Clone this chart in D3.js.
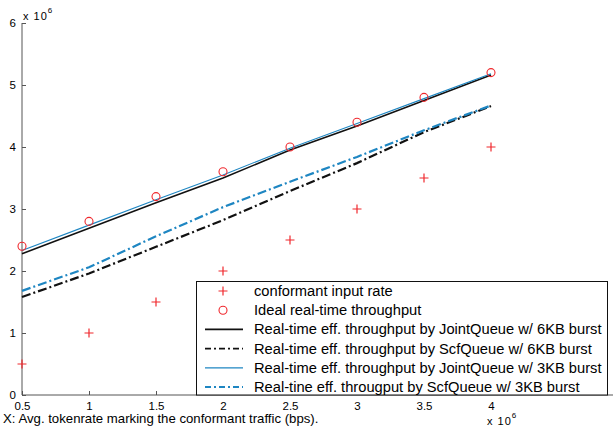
<!DOCTYPE html>
<html>
<head>
<meta charset="utf-8">
<script src="https://cdn.jsdelivr.net/npm/d3@7"></script>
<style>
  html, body { margin: 0; padding: 0; background: #fff; }
  svg { display: block; font-family: "Liberation Sans", Arial, Helvetica, sans-serif; }
</style>
</head>
<body>
<svg id="chart" width="613" height="432"></svg>
<script>
// Token rates (x 10^6 bps)
const rates = [0.5, 1, 1.5, 2, 2.5, 3, 3.5, 4];
// Series values (x 10^6 bps)
const conformantInput = [0.5, 1, 1.5, 2, 2.5, 3, 3.5, 4];
const idealThroughput = [2.4, 2.8, 3.2, 3.6, 4.0, 4.4, 4.8, 5.2];
const jointQueue6KB   = [2.28, 2.69, 3.10, 3.50, 3.95, 4.34, 4.75, 5.16];
const scfQueue6KB     = [1.58, 1.96, 2.39, 2.82, 3.29, 3.74, 4.24, 4.66];
const jointQueue3KB   = [2.33, 2.74, 3.15, 3.55, 3.98, 4.38, 4.78, 5.18];
const scfQueue3KB     = [1.68, 2.06, 2.56, 3.03, 3.44, 3.84, 4.27, 4.67];
// Tick labels
const xTicks = [0.5, 1, 1.5, 2, 2.5, 3, 3.5, 4];
const xTickLabels = ["0.5", "1", "1.5", "2", "2.5", "3", "3.5", "4"];
const yTicks = [0, 1, 2, 3, 4, 5, 6];
const yTickLabels = ["0", "1", "2", "3", "4", "5", "6"];
const legendLabels = [
  "conformant input rate",
  "Ideal real-time throughput",
  "Real-time eff. throughput by JointQueue w/ 6KB burst",
  "Real-time eff. throughput by ScfQueue w/ 6KB burst",
  "Real-time eff. throughput by JointQueue w/ 3KB burst",
  "Real-tine eff. througput by ScfQueue w/ 3KB burst"
];

const RED = "#f0282d";
const BLUE = "#1e86c2";
const AXIS = "#555";

const svg = d3.select("#chart");
const x = d3.scaleLinear().domain([0.5, 5]).range([22, 625]);
const y = d3.scaleLinear().domain([0, 6]).range([395, 23]);

// Axes: left and bottom only, ticks pointing inward
const xAxis = d3.axisBottom(x).tickValues(xTicks).tickSize(-4)
  .tickFormat((d, i) => xTickLabels[i]).tickPadding(7);
const gx = svg.append("g").attr("transform", `translate(0,${y(0)})`).call(xAxis);
gx.select(".domain").attr("stroke", AXIS).attr("d", `M${x(0.5)},0H613`);
gx.selectAll(".tick line").attr("stroke", AXIS);
gx.selectAll(".tick text").attr("font-size", 11.5).attr("fill", "#000");

const yAxis = d3.axisLeft(y).tickValues(yTicks).tickSize(-4).tickPadding(6)
  .tickFormat((d, i) => yTickLabels[i]);
const gy = svg.append("g").attr("transform", `translate(${x(0.5)},0)`).call(yAxis);
gy.select(".domain").attr("stroke", AXIS).attr("d", `M0,${y(6)}V${y(0)}`);
gy.selectAll(".tick line").attr("stroke", AXIS);
gy.selectAll(".tick text").attr("font-size", 11.5).attr("fill", "#000");

// Exponent labels
function exponent(g, px, py) {
  const t = g.append("text").attr("x", px).attr("y", py).attr("font-size", 11)
    .attr("letter-spacing", 1).attr("fill", "#000");
  t.append("tspan").text("x 10");
  t.append("tspan").attr("dy", -7).attr("font-size", 8).text("6");
}
exponent(svg, 23, 20);
exponent(svg, 487, 425);

// Axis title
svg.append("text").attr("x", 3).attr("y", 423).attr("font-size", 13.2).attr("fill", "#000")
  .text("X: Avg. tokenrate marking the conformant traffic (bps).");

const line = d3.line().x((d, i) => x(rates[i])).y(d => y(d));

const seriesLines = [
  { data: jointQueue6KB, color: "#111", width: 1.6, dash: null },
  { data: jointQueue3KB, color: BLUE, width: 1.1, dash: null },
  { data: scfQueue6KB, color: "#111", width: 2.2, dash: "9,3,2,3" },
  { data: scfQueue3KB, color: BLUE, width: 2.2, dash: "9,3,2,3" }
];
seriesLines.forEach(s => {
  svg.append("path").datum(s.data).attr("d", line)
    .attr("fill", "none").attr("stroke", s.color).attr("stroke-width", s.width)
    .attr("stroke-dasharray", s.dash);
});

// Markers
function plus(g, cx, cy, r) {
  g.append("path").attr("d", `M${cx - r},${cy}H${cx + r}M${cx},${cy - r}V${cy + r}`)
    .attr("stroke", RED).attr("stroke-width", 1.2).attr("fill", "none");
}
conformantInput.forEach((v, i) => plus(svg, x(rates[i]), y(v), 4.5));
svg.selectAll("circle.ideal").data(idealThroughput).join("circle")
  .attr("class", "ideal")
  .attr("cx", (d, i) => x(rates[i])).attr("cy", d => y(d)).attr("r", 4)
  .attr("fill", "none").attr("stroke", RED).attr("stroke-width", 1.1);

// Legend
const lg = svg.append("g");
lg.append("rect").attr("x", 196.5).attr("y", 281.5).attr("width", 411).attr("height", 113.5)
  .attr("fill", "#fff").attr("stroke", "#111").attr("stroke-width", 1);
const rowY = i => 291 + i * 19.2;
legendLabels.forEach((lab, i) => {
  lg.append("text").attr("x", 254).attr("y", rowY(i) + 5).attr("font-size", 14.7)
    .attr("fill", "#000").text(lab);
});
plus(lg, 223, rowY(0), 4.5);
lg.append("circle").attr("cx", 223).attr("cy", rowY(1)).attr("r", 4)
  .attr("fill", "none").attr("stroke", RED).attr("stroke-width", 1.1);
const legendLines = [
  { row: 2, color: "#111", width: 1.8, dash: null },
  { row: 3, color: "#111", width: 1.8, dash: "6,3,2,3" },
  { row: 4, color: BLUE, width: 1.2, dash: null },
  { row: 5, color: BLUE, width: 2, dash: "6,3,2,3" }
];
legendLines.forEach(s => {
  lg.append("line").attr("x1", 205).attr("x2", 243).attr("y1", rowY(s.row)).attr("y2", rowY(s.row))
    .attr("stroke", s.color).attr("stroke-width", s.width).attr("stroke-dasharray", s.dash);
});
</script>
</body>
</html>
